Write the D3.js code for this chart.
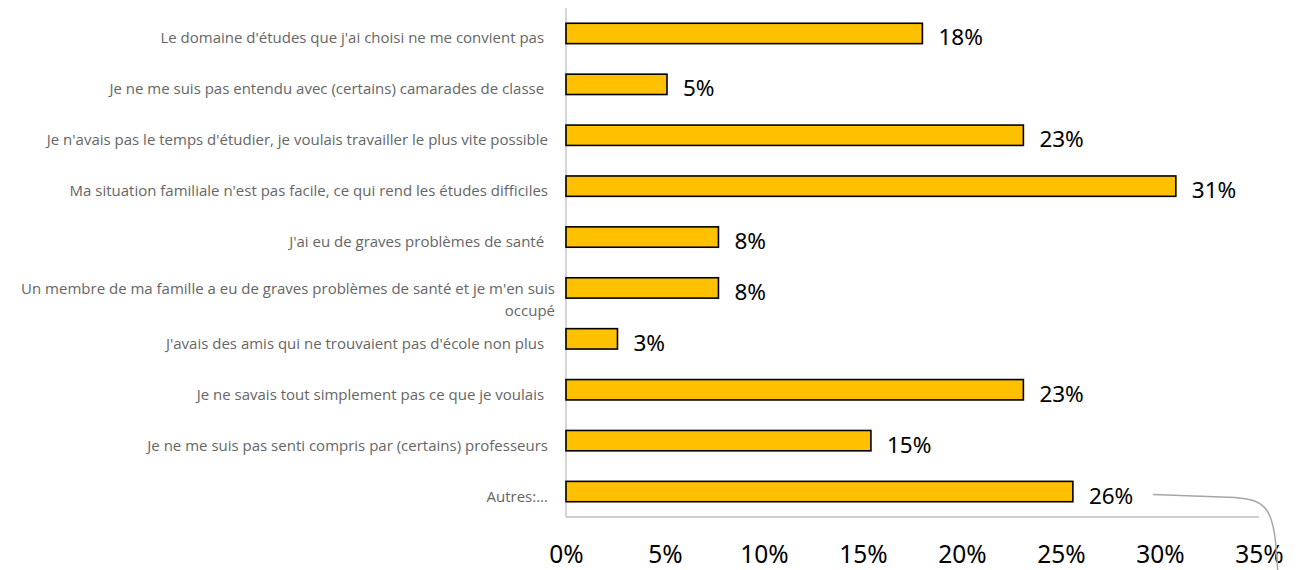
<!DOCTYPE html>
<html><head><meta charset="utf-8">
<script src="https://cdn.jsdelivr.net/npm/d3@7"></script>
<style>
body{margin:0;background:#fff;}
svg{display:block;}
text{white-space:pre;}
</style></head>
<body>
<svg id="chart" width="1306" height="570"></svg>
<script>
const categories = [
  "Le domaine d'études que j'ai choisi ne me convient pas ",
  "Je ne me suis pas entendu avec (certains) camarades de classe ",
  "Je n'avais pas le temps d'étudier, je voulais travailler le plus vite possible",
  "Ma situation familiale n'est pas facile, ce qui rend les études difficiles",
  "J'ai eu de graves problèmes de santé ",
  "Un membre de ma famille a eu de graves problèmes de santé et je m'en suis\noccupé",
  "J'avais des amis qui ne trouvaient pas d'école non plus ",
  "Je ne savais tout simplement pas ce que je voulais ",
  "Je ne me suis pas senti compris par (certains) professeurs",
  "Autres:..."
];
const values = [0.180, 0.051, 0.231, 0.308, 0.077, 0.077, 0.026, 0.231, 0.154, 0.256];
const valueLabels = ["18%","5%","23%","31%","8%","8%","3%","23%","15%","26%"];
const tickValues = [0, 0.05, 0.10, 0.15, 0.20, 0.25, 0.30, 0.35];

(function(){
const svg = d3.select("#chart");
const mLeft = 566, mRight = 1259, mTop = 8, mBottom = 517;

const x = d3.scaleLinear().domain([0, 0.35]).range([mLeft, mRight]);
const y = d3.scaleBand().domain(categories).range([mTop, mBottom]).paddingInner(0.6).paddingOuter(0.3);

// axis lines
svg.append("line").attr("x1", mLeft).attr("x2", mLeft).attr("y1", mTop).attr("y2", mBottom)
  .attr("stroke", "#bfbfbf").attr("stroke-width", 1.3);
svg.append("line").attr("x1", mLeft).attr("x2", mRight).attr("y1", mBottom).attr("y2", mBottom)
  .attr("stroke", "#bfbfbf").attr("stroke-width", 1.3);

// x tick labels
const xAxis = d3.axisBottom(x).tickValues(tickValues).tickFormat(d3.format(".0%")).tickSize(0).tickPadding(0);
const gx = svg.append("g").attr("transform", `translate(0,${mBottom + 46})`).call(xAxis);
gx.select(".domain").remove();
gx.selectAll("text").attr("font-family", "'Noto Sans', 'Open Sans', sans-serif")
  .attr("font-size", 24.5).attr("fill", "#000").attr("dy", 0);

// bars
svg.append("g").selectAll("rect").data(categories).join("rect")
  .attr("x", x(0))
  .attr("y", d => y(d))
  .attr("width", (d, i) => x(values[i]) - x(0))
  .attr("height", y.bandwidth())
  .attr("fill", "#ffc000").attr("stroke", "#000").attr("stroke-width", 1.6);

// value labels
svg.append("g").selectAll("text").data(categories).join("text")
  .attr("x", (d, i) => x(values[i]) + 16)
  .attr("y", d => y(d) + y.bandwidth() / 2 + 12)
  .attr("font-family", "'Noto Sans', 'Open Sans', sans-serif")
  .attr("font-size", 22.5).attr("fill", "#000")
  .text((d, i) => valueLabels[i]);

// category labels
const cg = svg.append("g");
categories.forEach(c => {
  const lines = c.split("\n");
  const cy = y(c) + y.bandwidth() / 2;
  const multi = lines.length > 1;
  const ax = multi ? 555 : 548;
  const t = cg.append("text")
    .attr("text-anchor", "end")
    .attr("font-family", "'Open Sans', sans-serif")
    .attr("font-size", 15).attr("fill", "#666666")
    .attr("x", ax)
    .attr("y", cy + (multi ? 6 : 10));
  lines.forEach((ln, k) => {
    t.append("tspan").attr("x", ax).attr("dy", k === 0 ? 0 : 22).text(ln);
  });
});

// leader line from the last label
const last = categories.length - 1;
const lx = x(values[last]) + 80, ly = y(categories[last]) + y.bandwidth() / 2 + 3;
svg.append("path")
  .attr("d", `M${lx},${ly} L${lx + 82},${ly + 3} C${lx + 115},${ly + 6} ${lx + 122},${ly + 12} ${lx + 125},${ly + 80}`)
  .attr("fill", "none").attr("stroke", "#a6a6a6").attr("stroke-width", 1.5);
})();
</script>
</body></html>
